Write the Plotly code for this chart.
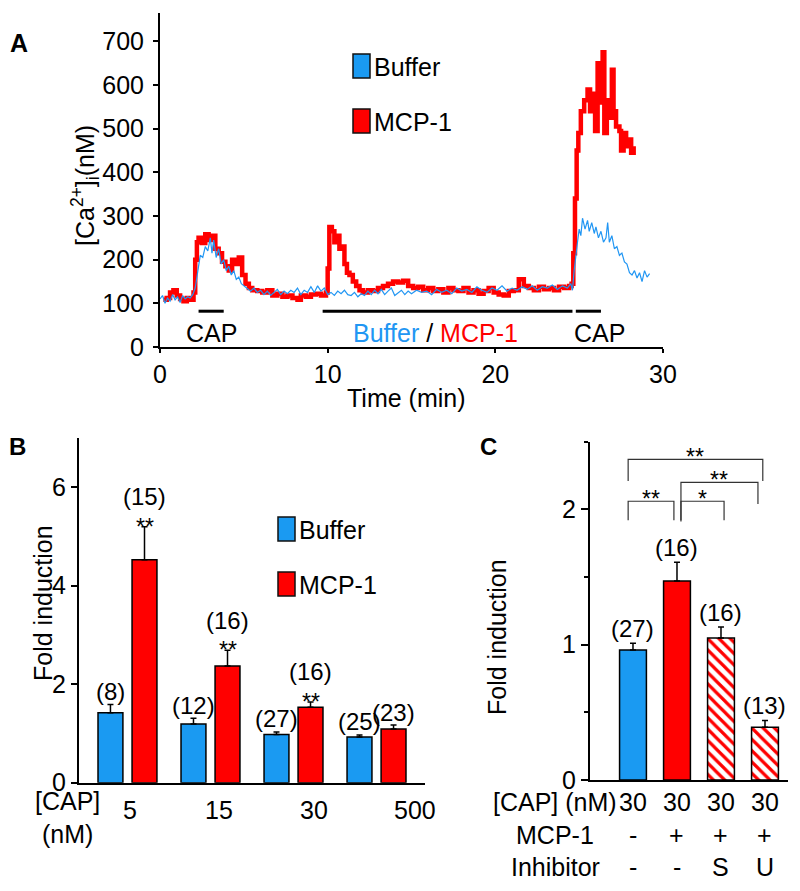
import plotly.graph_objects as go

# The page body has an 8 px margin, so the figure is sized to fill the 800x891 window exactly.
OFF = 8
W, H = 800 - 2 * OFF, 891 - 2 * OFF
FONT = "Liberation Sans, Arial, sans-serif"
BLUE = "#1A9AF2"
BLUE_LINE = "#2196F3"
RED = "#FF0000"

# ---------------- Panel A data ----------------
red_t = [0.2,0.4,0.6,0.8,1.0,1.2,1.4,1.6,1.8,
         2.0,2.1,2.2,2.3,2.5,2.7,2.9,3.1,3.3,3.5,3.7,3.9,
         4.1,4.3,4.5,4.7,4.9,5.1,5.3,5.5,5.8,
         6.1,6.4,6.7,7.0,7.3,7.6,7.9,8.2,8.4,8.7,9.0,9.3,9.6,9.9,
         10.0,10.1,10.25,10.4,10.55,10.7,10.85,11.0,11.15,11.3,11.5,11.7,11.9,
         12.1,12.4,12.7,13.0,13.3,13.6,13.9,14.2,14.5,14.8,
         15.1,15.4,15.7,16.0,16.3,16.6,16.9,17.2,17.5,17.8,
         18.1,18.4,18.7,19.0,19.3,19.6,19.9,20.2,20.5,20.8,
         21.1,21.4,21.7,22.0,22.3,22.6,22.9,23.2,23.5,23.8,
         24.1,24.4,24.55,24.65,24.75,24.85,24.95,
         25.1,25.3,25.5,25.65,25.8,25.95,
         26.1,26.25,26.4,26.5,26.65,26.8,26.95,
         27.05,27.2,27.4,27.5,27.65,27.8,27.95,
         28.1,28.25]
red_v = [108,112,125,130,118,110,105,112,108,
         125,200,240,250,238,258,245,255,225,215,195,185,
         175,200,190,205,165,145,135,130,128,
         125,130,118,122,115,118,112,108,118,115,120,122,118,125,
         180,275,265,240,255,225,230,190,170,165,150,140,130,
         125,130,128,135,140,145,150,148,152,140,
         135,138,130,135,128,132,125,135,130,128,
         135,125,130,122,128,135,125,120,118,128,
         130,155,140,135,130,138,132,135,130,138,
         135,140,145,215,340,450,490,
         540,565,590,540,580,495,
         650,560,675,490,565,525,635,
         540,505,495,450,490,460,475,
         445,460]

blue_t = [0.0,0.15,0.3,0.45,0.6,0.75,0.9,1.05,1.2,1.35,1.5,1.65,1.8,1.95,
          2.1,2.25,2.4,2.55,2.7,2.85,3.0,3.1,3.2,3.35,3.5,3.65,3.8,3.95,
          4.1,4.25,4.4,4.55,4.7,4.85,5.0,5.2,5.4,5.6,5.8,
          6.0,6.2,6.4,6.6,6.8,7.0,7.2,7.4,7.6,7.8,
          8.0,8.2,8.4,8.6,8.8,9.0,9.2,9.4,9.6,9.8,
          10.0,10.2,10.4,10.6,10.8,11.0,11.2,11.4,11.6,11.8,
          12.0,12.2,12.4,12.6,12.8,13.0,13.2,13.4,13.6,13.8,
          14.0,14.2,14.4,14.6,14.8,15.0,15.3,15.6,15.9,
          16.2,16.5,16.8,17.1,17.4,17.7,18.0,18.3,18.6,18.9,
          19.2,19.5,19.8,20.1,20.4,20.7,21.0,21.3,21.6,21.9,
          22.2,22.5,22.8,23.1,23.4,23.7,24.0,24.3,24.5,24.6,
          24.7,24.8,24.9,25.0,25.1,25.2,25.35,25.5,25.6,25.75,25.9,
          26.0,26.15,26.3,26.45,26.6,26.7,26.8,26.95,
          27.1,27.25,27.4,27.55,27.7,27.85,28.0,28.15,28.3,28.45,28.6,28.75,28.9,29.05,29.2]
blue_v = [110,118,100,112,105,120,108,115,102,118,110,115,112,120,
          135,170,210,205,230,220,250,215,245,205,225,190,200,175,
          185,165,175,155,160,145,140,135,128,135,125,
          130,120,128,118,125,132,120,128,122,130,
          125,135,120,130,125,138,125,140,128,135,
          120,125,118,128,122,130,120,118,125,115,
          122,118,128,120,130,122,132,120,128,135,
          118,125,130,120,128,122,130,125,128,
          120,132,125,130,122,135,128,132,125,138,
          130,125,135,130,140,128,135,130,138,132,
          140,130,138,135,142,132,140,135,145,130,
          175,215,240,270,255,295,270,290,265,285,260,
          275,250,265,240,250,285,240,255,
          225,230,210,215,195,190,170,165,175,158,170,150,175,160,168]
assert len(red_t) == len(red_v) and len(blue_t) == len(blue_v)

stim_start = [2.3, 9.7, 24.8]
stim_end = [3.8, 24.6, 26.3]
stim_label = ["CAP",
              f'<span style="color:{BLUE_LINE}">Buffer</span> / <span style="color:{RED}">MCP-1</span>',
              "CAP"]

# ---------------- Panel B data ----------------
cap_conc = ["5", "15", "30", "500"]
fold_buffer = [1.42, 1.19, 0.98, 0.93]
err_buffer = [0.17, 0.12, 0.05, 0.04]
n_buffer = [8, 12, 27, 25]
fold_mcp = [4.53, 2.37, 1.53, 1.09]
err_mcp = [0.67, 0.32, 0.11, 0.08]
n_mcp = [15, 16, 16, 23]
sig_mcp = ["**", "**", "**", ""]

# ---------------- Panel C data ----------------
c_cap = ["30", "30", "30", "30"]
c_mcp = ["-", "+", "+", "+"]
c_inh = ["-", "-", "S", "U"]
c_fold = [0.96, 1.47, 1.05, 0.39]
c_err = [0.05, 0.14, 0.08, 0.05]
c_n = [27, 16, 16, 13]
c_pairs = [(0, 1), (1, 2), (1, 3), (0, 3)]
c_sig = ["**", "*", "**", "**"]


def px(x):
    return (x - OFF) / W


def py(y):
    return 1 - (y - OFF) / H


fig = go.Figure()

# Panel A traces
fig.add_trace(go.Scatter(x=red_t, y=red_v, mode="lines", line=dict(color=RED, width=4.5, shape="hv"),
                         xaxis="x", yaxis="y", showlegend=False))
fig.add_trace(go.Scatter(x=blue_t, y=blue_v, mode="lines", line=dict(color=BLUE_LINE, width=1.2),
                         xaxis="x", yaxis="y", showlegend=False))

# Panel B bars
BW = 0.30
SEP = 0.205
fig.add_trace(go.Bar(x=list(range(len(cap_conc))), y=fold_buffer, width=BW, offset=-SEP - BW / 2,
                     marker=dict(color=BLUE, line=dict(color="black", width=1.5)),
                     error_y=dict(type="data", symmetric=False, array=err_buffer,
                                  arrayminus=[0] * len(err_buffer), color="black", thickness=1.5, width=3),
                     xaxis="x2", yaxis="y2", showlegend=False))
fig.add_trace(go.Bar(x=list(range(len(cap_conc))), y=fold_mcp, width=BW, offset=SEP - BW / 2,
                     marker=dict(color=RED, line=dict(color="black", width=1.5)),
                     error_y=dict(type="data", symmetric=False, array=err_mcp,
                                  arrayminus=[0] * len(err_mcp), color="black", thickness=1.5, width=3),
                     xaxis="x2", yaxis="y2", showlegend=False))

# Panel C bars
fig.add_trace(go.Bar(x=list(range(len(c_fold))), y=c_fold, width=0.61,
                     marker=dict(color=[BLUE, RED, RED, RED], line=dict(color="black", width=1.5),
                                 pattern=dict(shape=["", "", "\\", "\\"], size=8, solidity=0.4,
                                              fillmode="replace")),
                     error_y=dict(type="data", symmetric=False, array=c_err,
                                  arrayminus=[0] * len(c_err), color="black", thickness=1.5, width=3),
                     xaxis="x3", yaxis="y3", showlegend=False))

axis_common = dict(showline=True, linecolor="black", linewidth=2, showgrid=False, zeroline=False,
                   ticks="outside", tickcolor="black", tickwidth=1.5, automargin=False,
                   tickfont=dict(family=FONT, size=25, color="black"))

fig.update_layout(
    width=W, height=H, margin=dict(l=0, r=0, t=0, b=0, pad=0, autoexpand=False),
    paper_bgcolor="white", plot_bgcolor="rgba(0,0,0,0)",
    barmode="overlay",
    font=dict(family=FONT, size=25, color="black"),
    xaxis=dict(axis_common, domain=[px(160), px(663)], range=[0, 30], tickvals=[0, 10, 20, 30],
               ticklen=4, anchor="y"),
    yaxis=dict(axis_common, domain=[py(347), py(13)], range=[0, 765], tickvals=list(range(0, 701, 100)),
               ticklen=5, anchor="x", ticklabelstandoff=4),
    xaxis2=dict(axis_common, domain=[px(79), px(425)], range=[-0.584, 3.584], ticks="",
                showticklabels=False, anchor="y2"),
    yaxis2=dict(axis_common, domain=[py(782.7), py(438)], range=[0, 7], tickvals=[0, 2, 4, 6],
                ticklen=6, anchor="x2"),
    xaxis3=dict(axis_common, domain=[px(590), px(788)], range=[-0.977, 3.523], ticks="",
                showticklabels=False, anchor="y3"),
    yaxis3=dict(axis_common, domain=[py(780), py(441.7)], range=[0, 2.5], tickvals=[0, 1, 2],
                ticklen=7, anchor="x3",
                minor=dict(dtick=0.5, ticklen=4, ticks="outside", tickcolor="black", tickwidth=1.5)),
)

shapes = []
ann = []


def text(x, y, s, size=25, xanchor="center", yanchor="middle", xref="paper", yref="paper", **kw):
    ann.append(dict(x=x, y=y, text=s, showarrow=False, xref=xref, yref=yref, xanchor=xanchor,
                    yanchor=yanchor, font=dict(family=FONT, size=size, color=kw.pop("color", "black")), **kw))


# Panel letters
text(px(19), py(43), "<b>A</b>", size=25)
text(px(17), py(446), "<b>B</b>", size=24)
text(px(488), py(446), "<b>C</b>", size=24)

# Panel A titles
text(px(85), py(186), "[Ca<sup>2+</sup>]<sub>i</sub>(nM)", size=25, textangle=-90)
text(px(406), py(398), "Time (min)", size=25)

# Panel A stimulus bars
STIM_Y = 82
label_shift = [0, -12, 11]
for s0, s1, lab, sh in zip(stim_start, stim_end, stim_label, label_shift):
    shapes.append(dict(type="line", xref="x", yref="y", x0=s0, x1=s1, y0=STIM_Y, y1=STIM_Y,
                       line=dict(color="black", width=3)))
    text((s0 + s1) / 2, 32, lab, xref="x", yref="y", xshift=sh)

# Legends (A and B)
for (bx, by0, by1, gap) in [(353, 54, 78, 55), (278, 517, 541, 55)]:
    for k, (col, lab) in enumerate([(BLUE, "Buffer"), (RED, "MCP-1")]):
        y0 = by0 + k * gap
        y1 = by1 + k * gap
        shapes.append(dict(type="rect", xref="paper", yref="paper", x0=px(bx), x1=px(bx + 17),
                           y0=py(y1), y1=py(y0), fillcolor=col, line=dict(color="#111", width=1.5)))
        text(px(bx + 19), py((y0 + y1) / 2 + 1), lab, xanchor="left")

# Panel B titles and labels
text(px(43), py(603), "Fold induction", textangle=-90)
text(px(67), py(817), "[CAP]<br>(nM)")
tick_shift = [3, 9, 20, 38]
for i, (lab, sh) in enumerate(zip(cap_conc, tick_shift)):
    text(i, py(810), lab, xref="x2", xshift=sh)
for i in range(len(cap_conc)):
    text(i - SEP, fold_buffer[i] + err_buffer[i], f"({n_buffer[i]})", size=24, xref="x2", yref="y2",
         yshift=13)
    if sig_mcp[i]:
        text(i + SEP, fold_mcp[i] + err_mcp[i], sig_mcp[i], size=23, xref="x2", yref="y2", yshift=0)
        text(i + SEP, fold_mcp[i] + err_mcp[i], f"({n_mcp[i]})", size=24, xref="x2", yref="y2", yshift=30)
    else:
        text(i + SEP, fold_mcp[i] + err_mcp[i], f"({n_mcp[i]})", size=24, xref="x2", yref="y2", yshift=13)

# Panel C titles and labels
text(px(497), py(637), "Fold induction", textangle=-90)
text(px(555), py(802), "[CAP] (nM)")
text(px(555), py(835), "MCP-1")
text(px(555), py(867), "Inhibitor")
for i in range(len(c_fold)):
    text(i, py(802), c_cap[i], xref="x3")
    text(i, py(835), c_mcp[i], xref="x3")
    text(i, py(867), c_inh[i], xref="x3")
    text(i, c_fold[i] + c_err[i], f"({c_n[i]})", size=24, xref="x3", yref="y3", yshift=15)

# Significance brackets in C
bracket_y = [2.06, 2.06, 2.20, 2.37]
leg_bottom = [(1.92, 1.92), (1.92, 1.92), (1.91, 2.04), (2.21, 2.21)]
leg_dx = [(-0.11, -0.07), (0.09, 0.07), (0.09, -0.16), (-0.11, -0.05)]
for (a, b), s, yb, (l0, l1), (d0, d1) in zip(c_pairs, c_sig, bracket_y, leg_bottom, leg_dx):
    xa, xb = a + d0, b + d1
    shapes.append(dict(type="path", xref="x3", yref="y3",
                       path=f"M{xa},{l0} L{xa},{yb} L{xb},{yb} L{xb},{l1}",
                       line=dict(color="#333", width=1.2)))
    text((xa + xb) / 2, yb, s, size=23, xref="x3", yref="y3", yshift=2)

fig.update_layout(shapes=shapes, annotations=ann)
fig.write_html("out.html")
